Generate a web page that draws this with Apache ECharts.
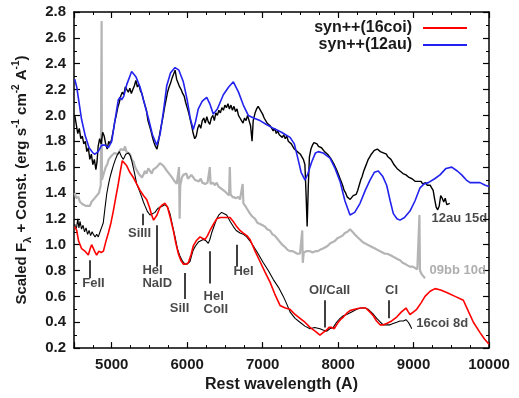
<!DOCTYPE html>
<html>
<head>
<meta charset="utf-8">
<script src="https://cdn.jsdelivr.net/npm/echarts@6/dist/echarts.min.js"></script>
<style>
  html, body { margin: 0; padding: 0; background: #fff; }
  #chart { width: 519px; height: 398px; }
</style>
</head>
<body>
<div id="chart"></div>
<script>
// spectra: [rest wavelength (A), scaled flux + const]
const obs12au = [
  [4510,2.00],[4530,1.93],[4550,1.86],[4570,1.90],[4590,1.82],[4610,1.84],[4630,1.78],[4650,1.80],
  [4670,1.72],[4690,1.75],[4710,1.66],[4730,1.70],[4750,1.62],[4770,1.66],[4790,1.58],[4805,1.64],
  [4820,1.76],[4840,1.82],[4860,1.78],[4880,1.87],[4900,1.84],[4920,1.78],[4940,1.74],[4960,1.80],
  [4980,1.78],[5000,1.82],[5020,1.88],[5040,1.95],[5060,2.00],[5080,2.06],[5100,2.10],[5120,2.15],
  [5140,2.18],[5160,2.16],[5180,2.22],[5200,2.20],[5220,2.18],[5240,2.21],[5260,2.17],[5280,2.20],
  [5300,2.23],[5320,2.27],[5340,2.22],[5360,2.24],[5380,2.19],[5400,2.17],[5420,2.12],[5440,2.08],
  [5460,2.04],[5480,1.96],[5500,1.92],[5520,1.88],[5540,1.83],[5560,1.79],[5580,1.76],[5600,1.74],
  [5620,1.80],[5640,1.87],[5660,1.93],[5680,1.99],[5700,2.06],[5720,2.12],[5740,2.18],[5760,2.22],
  [5780,2.25],[5800,2.29],[5820,2.30],[5840,2.35],[5860,2.28],[5880,2.27],[5900,2.22],[5920,2.20],
  [5940,2.17],[5960,2.15],[5980,2.10],[6000,2.06],[6020,2.02],[6040,1.97],[6060,1.92],[6080,1.86],
  [6100,1.82],[6120,1.84],[6140,1.90],[6160,1.93],[6180,1.90],[6200,1.96],[6220,1.98],[6240,1.94],
  [6260,1.99],[6280,1.95],[6300,1.93],[6320,1.98],[6340,2.00],[6360,1.96],[6380,2.02],[6400,2.00],
  [6420,2.04],[6440,2.02],[6460,2.06],[6480,2.04],[6500,2.08],[6520,2.06],[6540,2.09],[6560,2.05],
  [6580,2.08],[6600,2.04],[6620,2.07],[6640,2.03],[6660,2.05],[6680,2.00],[6700,1.98],[6720,1.96],
  [6740,1.94],[6760,1.98],[6780,1.96],[6800,2.00],[6820,1.96],[6840,1.92],[6860,1.80],[6875,1.96],
  [6900,2.02],[6920,2.05],[6940,2.07],[6960,2.05],[6980,2.03],[7000,2.01],[7020,1.98],[7040,1.97],
  [7060,1.94],[7080,1.95],[7100,1.92],[7120,1.91],[7140,1.88],[7160,1.90],[7180,1.86],[7200,1.88],
  [7220,1.85],[7240,1.86],[7260,1.83],[7280,1.85],[7300,1.82],[7320,1.84],[7340,1.80],[7360,1.81],
  [7380,1.78],[7400,1.77],[7420,1.74],[7440,1.75],[7460,1.72],[7480,1.71],[7500,1.70],[7520,1.68],
  [7540,1.66],[7560,1.62],[7575,1.40],[7590,1.14],[7605,1.45],[7620,1.68],[7640,1.74],[7660,1.77],
  [7680,1.79],[7700,1.78],[7720,1.78],[7740,1.76],[7760,1.77],[7780,1.75],[7800,1.74],[7820,1.72],
  [7840,1.72],[7860,1.70],[7880,1.69],[7900,1.67],[7920,1.66],[7940,1.63],[7960,1.62],[7980,1.58],
  [8000,1.55],[8020,1.52],[8040,1.49],[8060,1.46],[8080,1.42],[8100,1.40],[8120,1.37],[8140,1.38],
  [8160,1.35],[8180,1.36],[8200,1.38],[8220,1.37],[8240,1.39],[8260,1.42],[8280,1.46],[8300,1.50],
  [8320,1.53],[8340,1.57],[8360,1.60],[8380,1.63],[8400,1.66],[8420,1.68],[8440,1.70],[8460,1.71],
  [8480,1.73],[8500,1.72],[8520,1.74],[8540,1.73],[8560,1.72],[8580,1.73],[8600,1.71],[8620,1.70],
  [8640,1.70],[8660,1.68],[8680,1.67],[8700,1.66],[8720,1.64],[8740,1.62],[8760,1.61],[8780,1.59],
  [8800,1.58],[8820,1.57],[8840,1.58],[8860,1.55],[8880,1.56],[8900,1.54],[8920,1.55],[8940,1.52],
  [8960,1.53],[8980,1.51],[9000,1.52],[9020,1.49],[9040,1.50],[9060,1.49],[9080,1.48],[9100,1.49],
  [9120,1.47],[9140,1.48],[9160,1.48],[9180,1.46],[9200,1.47],[9220,1.46],[9240,1.44],[9260,1.42],
  [9280,1.35],[9300,1.29],[9320,1.27],[9340,1.30],[9360,1.38],[9380,1.36],[9400,1.33],[9420,1.36],
  [9440,1.31],[9460,1.30],[9480,1.32]
];

const syn12au = [
  [4510,2.28],[4536,2.22],[4600,1.97],[4650,1.84],[4700,1.75],[4750,1.71],[4778,1.70],[4820,1.72],
  [4867,1.77],[4910,1.77],[4955,1.75],[5000,1.80],[5040,1.95],[5087,2.12],[5110,2.14],[5132,2.12],
  [5160,2.15],[5200,2.24],[5264,2.34],[5320,2.30],[5375,2.22],[5430,2.10],[5485,1.98],[5540,1.85],
  [5596,1.77],[5640,1.85],[5690,2.05],[5729,2.23],[5780,2.33],[5839,2.37],[5890,2.35],[5949,2.26],
  [6000,2.12],[6040,1.98],[6081,1.89],[6110,1.95],[6147,2.05],[6200,2.11],[6259,2.14],[6300,2.09],
  [6346,2.01],[6400,2.05],[6479,2.16],[6550,2.22],[6612,2.26],[6680,2.18],[6744,2.08],[6810,2.00],
  [6880,1.98],[6965,1.96],[7050,1.93],[7142,1.90],[7250,1.87],[7363,1.83],[7420,1.78],[7470,1.66],
  [7510,1.56],[7562,1.50],[7600,1.55],[7650,1.64],[7700,1.71],[7738,1.72],[7800,1.71],[7893,1.67],
  [7960,1.59],[8026,1.49],[8090,1.34],[8158,1.23],[8220,1.25],[8291,1.32],[8360,1.42],[8423,1.50],
  [8480,1.56],[8533,1.57],[8590,1.53],[8644,1.46],[8690,1.34],[8732,1.24],[8780,1.20],[8821,1.19],
  [8880,1.21],[8953,1.26],[9020,1.34],[9086,1.44],[9140,1.47],[9196,1.48],[9280,1.51],[9351,1.54],
  [9430,1.59],[9506,1.60],[9580,1.57],[9638,1.54],[9700,1.50],[9748,1.48],[9881,1.48],[9950,1.46],
  [10000,1.45]
];

const obs09bb = [
  [4510,1.40],[4530,1.36],[4557,1.37],[4580,1.33],[4600,1.34],[4620,1.31],[4640,1.32],[4660,1.30],
  [4680,1.31],[4712,1.30],[4730,1.33],[4750,1.32],[4775,1.36],[4800,1.35],[4830,1.40],[4855,1.46],
  [4862,1.47],[4866,2.73],[4870,1.50],[4900,1.56],[4920,1.60],[4940,1.62],[4960,1.66],[4977,1.65],
  [5000,1.69],[5020,1.68],[5040,1.71],[5060,1.72],[5080,1.70],[5100,1.71],[5120,1.74],[5140,1.75],
  [5160,1.73],[5176,1.76],[5195,1.72],[5210,1.73],[5242,1.70],[5265,1.66],[5290,1.64],[5310,1.60],
  [5331,1.59],[5355,1.55],[5380,1.55],[5400,1.52],[5419,1.54],[5440,1.57],[5460,1.55],[5485,1.59],
  [5507,1.58],[5530,1.55],[5550,1.58],[5575,1.57],[5596,1.60],[5615,1.59],[5640,1.63],[5662,1.63],
  [5685,1.61],[5700,1.60],[5720,1.58],[5740,1.57],[5760,1.55],[5772,1.54],[5800,1.52],[5820,1.50],
  [5840,1.49],[5861,1.47],[5885,1.48],[5892,1.60],[5900,1.20],[5908,1.46],[5930,1.52],[5949,1.54],
  [5970,1.53],[5990,1.55],[6010,1.51],[6030,1.52],[6055,1.54],[6081,1.52],[6105,1.50],[6130,1.51],
  [6155,1.49],[6180,1.51],[6200,1.48],[6214,1.49],[6240,1.47],[6270,1.48],[6290,1.47],[6300,1.60],
  [6310,1.47],[6340,1.48],[6365,1.46],[6391,1.48],[6415,1.45],[6440,1.46],[6460,1.43],[6479,1.44],
  [6505,1.41],[6530,1.40],[6555,1.38],[6565,1.60],[6575,1.39],[6600,1.37],[6620,1.38],[6650,1.36],
  [6678,1.37],[6700,1.35],[6720,1.34],[6735,1.47],[6745,1.32],[6770,1.30],[6790,1.28],[6810,1.27],
  [6833,1.24],[6860,1.22],[6880,1.21],[6900,1.20],[6930,1.17],[6965,1.16],[7000,1.15],[7030,1.14],
  [7060,1.12],[7098,1.11],[7130,1.08],[7160,1.07],[7190,1.05],[7230,1.02],[7260,1.00],[7300,0.98],
  [7330,0.96],[7363,0.95],[7400,0.95],[7430,0.94],[7460,0.93],[7495,0.93],[7515,0.94],[7525,1.11],
  [7532,0.86],[7545,0.94],[7580,0.95],[7600,0.94],[7628,0.95],[7660,0.94],[7700,0.95],[7730,0.95],
  [7760,0.96],[7800,0.97],[7830,0.98],[7860,0.99],[7893,1.01],[7930,1.02],[7960,1.03],[7990,1.05],
  [8026,1.06],[8060,1.07],[8090,1.09],[8125,1.10],[8158,1.12],[8190,1.10],[8220,1.08],[8255,1.06],
  [8291,1.04],[8325,1.02],[8360,1.01],[8390,1.00],[8423,0.99],[8455,0.98],[8490,0.97],[8520,0.96],
  [8556,0.95],[8590,0.94],[8620,0.93],[8650,0.93],[8688,0.92],[8720,0.91],[8750,0.90],[8785,0.89],
  [8821,0.88],[8855,0.86],[8890,0.85],[8920,0.84],[8953,0.83],[8990,0.83],[9020,0.82],[9050,0.81],
  [9072,0.81],[9078,1.23],[9085,0.80],[9110,0.77],[9130,0.76],[9152,0.74]
];

const obs16coi = [
  [4510,1.16],[4525,1.12],[4536,1.14],[4550,1.20],[4565,1.13],[4580,1.18],[4600,1.12],[4620,1.15],
  [4640,1.10],[4660,1.13],[4680,1.08],[4700,1.11],[4720,1.07],[4740,1.10],[4756,1.08],[4780,1.06],
  [4800,1.08],[4822,1.06],[4845,1.10],[4870,1.14],[4888,1.17],[4910,1.28],[4933,1.39],[4955,1.46],
  [4977,1.52],[5000,1.57],[5020,1.61],[5043,1.65],[5070,1.69],[5101,1.72],[5130,1.68],[5154,1.66],
  [5185,1.70],[5220,1.71],[5245,1.69],[5265,1.65],[5300,1.56],[5331,1.47],[5365,1.42],[5397,1.37],
  [5420,1.33],[5441,1.30],[5470,1.26],[5507,1.23],[5540,1.24],[5573,1.25],[5610,1.28],[5640,1.29],
  [5675,1.30],[5706,1.31],[5740,1.29],[5772,1.24],[5805,1.15],[5839,1.06],[5870,0.97],[5905,0.91],
  [5940,0.87],[5971,0.85],[6000,0.85],[6037,0.87],[6060,0.92],[6081,0.96],[6110,0.99],[6148,1.02],
  [6180,1.03],[6214,1.04],[6250,1.03],[6280,1.01],[6300,1.04],[6324,1.09],[6360,1.15],[6391,1.20],
  [6420,1.23],[6457,1.25],[6490,1.24],[6523,1.23],[6570,1.18],[6612,1.14],[6650,1.11],[6700,1.09],
  [6745,1.08],[6789,1.06],[6830,1.03],[6877,0.99],[6940,0.93],[7009,0.86],[7075,0.80],[7142,0.73],
  [7210,0.67],[7274,0.60],[7320,0.54],[7363,0.48],[7430,0.43],[7495,0.40],[7560,0.37],[7628,0.35],
  [7690,0.36],[7760,0.35],[7800,0.34],[7848,0.33],[7890,0.35],[7937,0.36],[7980,0.40],[8026,0.43],
  [8070,0.45],[8114,0.46],[8180,0.48],[8247,0.50],[8300,0.51],[8357,0.51],[8400,0.50],[8423,0.49],
  [8470,0.46],[8512,0.43],[8560,0.40],[8600,0.38],[8644,0.38],[8688,0.38],[8730,0.39],[8777,0.40],
  [8820,0.41],[8865,0.41],[8900,0.42],[8931,0.40],[8960,0.37],[8975,0.35]
];

const syn16coi = [
  [4510,1.14],[4536,1.11],[4560,1.03],[4600,0.97],[4646,0.95],[4690,0.92],[4715,0.97],[4734,1.00],
  [4755,0.99],[4780,0.94],[4800,0.92],[4830,0.95],[4860,0.94],[4890,0.95],[4920,1.02],[4955,1.09],
  [4990,1.17],[5021,1.26],[5055,1.37],[5087,1.47],[5115,1.57],[5140,1.65],[5170,1.63],[5199,1.61],
  [5240,1.56],[5286,1.52],[5330,1.47],[5375,1.42],[5420,1.38],[5463,1.35],[5500,1.29],[5529,1.23],
  [5555,1.19],[5574,1.18],[5600,1.23],[5640,1.29],[5675,1.31],[5706,1.32],[5740,1.29],[5780,1.20],
  [5816,1.11],[5850,1.01],[5883,0.93],[5915,0.88],[5949,0.85],[5985,0.85],[6015,0.86],[6050,0.92],
  [6081,0.99],[6120,1.03],[6170,1.06],[6200,1.05],[6236,1.04],[6270,1.07],[6302,1.11],[6350,1.16],
  [6391,1.20],[6440,1.21],[6479,1.21],[6530,1.21],[6568,1.21],[6610,1.18],[6656,1.14],[6700,1.11],
  [6744,1.09],[6790,1.07],[6833,1.04],[6900,0.95],[6965,0.87],[7030,0.79],[7098,0.71],[7160,0.62],
  [7230,0.53],[7300,0.51],[7363,0.50],[7430,0.46],[7495,0.43],[7560,0.40],[7628,0.36],[7700,0.33],
  [7760,0.30],[7800,0.32],[7848,0.34],[7880,0.36],[7915,0.36],[7950,0.35],[7990,0.39],[8030,0.42],
  [8070,0.44],[8115,0.47],[8158,0.49],[8220,0.50],[8291,0.51],[8366,0.51],[8420,0.48],[8467,0.45],
  [8510,0.41],[8556,0.38],[8600,0.38],[8644,0.39],[8710,0.41],[8777,0.44],[8840,0.48],[8900,0.51],
  [8930,0.48],[8953,0.46],[9000,0.48],[9042,0.50],[9100,0.55],[9152,0.60],[9220,0.64],[9285,0.66],
  [9360,0.65],[9439,0.63],[9550,0.60],[9660,0.57],[9730,0.48],[9793,0.40],[9881,0.32],[9940,0.27],
  [10000,0.23]
];

// line identifications: tick from top to bottom, label nearby
const lineIds = ["FeII", "SiIII", "HeI\nNaID", "SiII", "HeI\nCoII", "HeI", "OI/CaII", "CI"];
const lineWave = [4712, 5410, 5596, 5971, 6293, 6656, 7818, 8666];
const lineTop = [0.88, 1.24, 1.15, 0.78, 0.95, 1.00, 0.57, 0.57];
const lineBottom = [0.74, 1.15, 0.83, 0.58, 0.70, 0.83, 0.36, 0.43];
const idLabelX = [4765, 5375, 5414, 5905, 6223, 6753, 7893, 8715];
const idLabelY = [0.695, 1.087, 0.745, 0.505, 0.543, 0.79, 0.64, 0.64];

// spectrum tags at the right
const tagText = ["12au 15d", "09bb 10d", "16coi 8d"];
const tagX = [9245, 9218, 9042];
const tagY = [1.20, 0.795, 0.39];

const chart = echarts.init(document.getElementById("chart"));
const FONT = "'Liberation Sans', Arial, sans-serif";
const INK = "#1a1a1a";

const frameAxis = {
  axisLine: { show: true, onZero: false, lineStyle: { color: "#000", width: 1.5 } },
  axisTick: { show: true, inside: true, length: 6, lineStyle: { color: "#000", width: 1.2 } },
  minorTick: { show: true, length: 3, lineStyle: { color: "#000", width: 1 } },
  splitLine: { show: false },
};

function xAxis(pos, labels) {
  return Object.assign({}, frameAxis, {
    type: "value", position: pos, min: 4500, max: 10000, splitNumber: 5,
    minorTick: Object.assign({}, frameAxis.minorTick, { splitNumber: 4 }),
    axisLabel: { show: labels, showMinLabel: false, margin: 9, color: INK,
      fontFamily: FONT, fontWeight: "bold", fontSize: 15, formatter: v => String(v) },
  });
}
function yAxis(pos, labels) {
  return Object.assign({}, frameAxis, {
    type: "value", position: pos, min: 0.2, max: 2.8, interval: 0.2,
    minorTick: Object.assign({}, frameAxis.minorTick, { splitNumber: 2 }),
    axisLabel: { show: labels, margin: 8, color: INK, fontFamily: FONT, fontWeight: "bold",
      fontSize: 15, formatter: v => v.toFixed(1) },
  });
}

const bottomX = xAxis("bottom", true);
bottomX.name = "Rest wavelength (A)";
bottomX.nameLocation = "middle";
bottomX.nameGap = 27;
bottomX.nameTextStyle = { color: INK, fontFamily: FONT, fontWeight: "bold", fontSize: 16 };

const leftY = yAxis("left", true);
leftY.name = "{t|Scaled F}{sub|λ}{t| + Const. (erg s}{sup|-1}{t| cm}{sup|-2}{t| A}{sup|-1}{t|)}";
leftY.nameLocation = "middle";
leftY.nameGap = 41;
leftY.nameTextStyle = {
  color: INK, fontFamily: FONT, fontWeight: "bold", fontSize: 15,
  rich: {
    t: { color: INK, fontFamily: FONT, fontWeight: "bold", fontSize: 15, lineHeight: 22 },
    sup: { color: INK, fontFamily: FONT, fontWeight: "bold", fontSize: 10, lineHeight: 11, verticalAlign: "top" },
    sub: { color: INK, fontFamily: FONT, fontWeight: "bold", fontSize: 11, lineHeight: 11, verticalAlign: "bottom" },
  },
};

function specLine(name, data, color, width) {
  return { name, type: "line", data, showSymbol: false, symbol: "none", smooth: false,
    lineStyle: { color, width }, itemStyle: { color }, z: 3 };
}

const idPoints = lineIds.map((t, i) => ({
  name: t, value: [idLabelX[i], idLabelY[i]],
  label: { align: t.includes("\n") ? "left" : "center" },
}));
const idTicks = lineWave.map((w, i) => [{ coord: [w, lineTop[i]] }, { coord: [w, lineBottom[i]] }]);
const tagPoints = tagText.map((t, i) => ({
  name: t, value: [tagX[i], tagY[i]],
  label: { color: i === 1 ? "#9a9a9a" : INK },
}));

chart.setOption({
  animation: false,
  grid: { left: 74, right: 30, top: 12, bottom: 45 },
  legend: {
    orient: "vertical", right: 47, top: 15, align: "right", icon: "rect",
    itemWidth: 44, itemHeight: 2, itemGap: 1,
    data: ["syn++(16coi)", "syn++(12au)"],
    textStyle: { color: INK, fontFamily: FONT, fontWeight: "bold", fontSize: 16, lineHeight: 16, padding: [0, 6, 0, 0] },
  },
  xAxis: [bottomX, xAxis("top", false)],
  yAxis: [leftY, yAxis("right", false)],
  series: [
    specLine("09bb", obs09bb, "#b4b4b4", 2.2),
    specLine("12au", obs12au, "#000", 1.4),
    specLine("syn++(12au)", syn12au, "#2222ee", 1.6),
    specLine("16coi", obs16coi, "#000", 1.1),
    specLine("syn++(16coi)", syn16coi, "#ff0000", 1.6),
    {
      name: "ids", type: "scatter", data: idPoints, symbolSize: 1, z: 5,
      itemStyle: { color: "transparent" },
      label: { show: true, position: [0, 0], verticalAlign: "middle", formatter: p => p.name,
        color: INK, fontFamily: FONT, fontWeight: "bold", fontSize: 13, lineHeight: 13 },
      markLine: { silent: true, symbol: ["none", "none"], label: { show: false },
        lineStyle: { color: "#000", width: 1.5, type: "solid" }, data: idTicks },
    },
    {
      name: "tags", type: "scatter", data: tagPoints, symbolSize: 1, z: 5,
      itemStyle: { color: "transparent" },
      label: { show: true, position: [0, 0], align: "left", verticalAlign: "middle", formatter: p => p.name,
        color: INK, fontFamily: FONT, fontWeight: "bold", fontSize: 13 },
    },
  ],
});
</script>
</body>
</html>
